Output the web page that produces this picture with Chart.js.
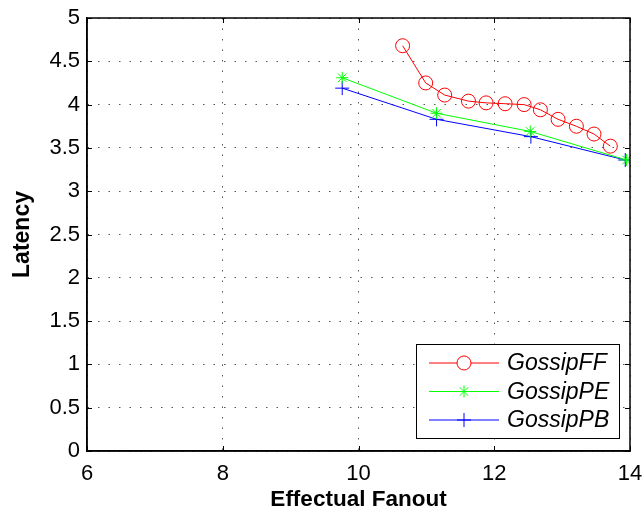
<!DOCTYPE html>
<html>
<head>
<meta charset="utf-8">
<script src="https://cdn.jsdelivr.net/npm/chart.js@4/dist/chart.umd.min.js"></script>
<style>
  html, body { margin: 0; padding: 0; background: #fff; overflow: hidden; }
  #wrap { width: 644px; height: 513px; }
  canvas { display: block; }
</style>
</head>
<body>
<div id="wrap"><canvas id="c" width="644" height="513"></canvas></div>
<script>
const FONT = '"Liberation Sans", Arial, Helvetica, sans-serif';

// data
const ffX = [10.65, 10.99, 11.27, 11.62, 11.88, 12.16, 12.44, 12.68, 12.94, 13.21, 13.47, 13.71];
const ffY = [4.68, 4.25, 4.11, 4.04, 4.02, 4.01, 4.00, 3.94, 3.83, 3.75, 3.66, 3.52];
const peX = [9.76, 11.15, 12.53, 13.95];
const peY = [4.31, 3.90, 3.69, 3.36];
const pbX = [9.76, 11.15, 12.54, 13.93];
const pbY = [4.19, 3.83, 3.63, 3.36];

const xTicks = [6, 8, 10, 12, 14];
const yTicks = [0, 0.5, 1, 1.5, 2, 2.5, 3, 3.5, 4, 4.5, 5];

const pts = (xs, ys) => xs.map((x, i) => ({ x, y: ys[i] }));

const series = [
  { label: "GossipFF", data: pts(ffX, ffY), color: "#ff0000", style: "circle", r: 7 },
  { label: "GossipPE", data: pts(peX, peY), color: "#00ff00", style: "star", r: 6 },
  { label: "GossipPB", data: pts(pbX, pbY), color: "#0000ff", style: "cross", r: 7 },
];

// frame + inward tick marks like matlab
const framePlugin = {
  id: "frame",
  afterDraw(chart) {
    const { ctx, chartArea: a, scales } = chart;
    ctx.save();
    ctx.strokeStyle = "#000";
    ctx.lineWidth = 1.5;
    ctx.strokeRect(a.left, a.top, a.right - a.left, a.bottom - a.top);
    ctx.lineWidth = 1;
    const tl = 5;
    ctx.beginPath();
    xTicks.forEach((v) => {
      const px = Math.round(scales.x.getPixelForValue(v)) + 0.5;
      ctx.moveTo(px, a.bottom); ctx.lineTo(px, a.bottom - tl);
      ctx.moveTo(px, a.top); ctx.lineTo(px, a.top + tl);
    });
    yTicks.forEach((v) => {
      const py = Math.round(scales.y.getPixelForValue(v)) + 0.5;
      ctx.moveTo(a.left, py); ctx.lineTo(a.left + tl, py);
      ctx.moveTo(a.right, py); ctx.lineTo(a.right - tl, py);
    });
    ctx.stroke();
    ctx.restore();
  },
};

// legend box inside the bottom-right corner
const legendPlugin = {
  id: "boxLegend",
  afterDraw(chart) {
    const { ctx, chartArea: a } = chart;
    const w = 203, rowH = 28.5;
    const h = 94;
    const x0 = a.right - 11 - w, y0 = a.bottom - 13 - h;
    ctx.save();
    ctx.fillStyle = "#fff";
    ctx.fillRect(x0, y0, w, h);
    ctx.strokeStyle = "#000";
    ctx.lineWidth = 1;
    ctx.strokeRect(x0 + 0.5, y0 + 0.5, w, h);
    ctx.font = "italic 23px " + FONT;
    ctx.textBaseline = "middle";
    ctx.textAlign = "left";
    series.forEach((s, i) => {
      const y = y0 + 19 + i * rowH;
      ctx.strokeStyle = s.color;
      ctx.lineWidth = 1;
      ctx.beginPath();
      ctx.moveTo(x0 + 13, y);
      ctx.lineTo(x0 + 83, y);
      ctx.stroke();
      Chart.helpers.drawPoint(ctx, { pointStyle: s.style, radius: s.r, borderWidth: 1, rotation: 0 }, x0 + 48, y);
      ctx.fillStyle = "#000";
      ctx.fillText(s.label, x0 + 91, y + 1);
    });
    ctx.restore();
  },
};

const gridOpts = { color: "#555", lineWidth: 1, drawTicks: false };
const borderOpts = { display: true, color: "#000", width: 1.5, dash: [1.5, 9] };
const fmt = (v) => String(v);

new Chart(document.getElementById("c"), {
  type: "line",
  data: {
    datasets: series.map((s) => ({
      label: s.label,
      data: s.data,
      borderColor: s.color,
      backgroundColor: "rgba(0,0,0,0)",
      pointBorderColor: s.color,
      pointBackgroundColor: "rgba(0,0,0,0)",
      pointStyle: s.style,
      pointRadius: s.r,
      pointBorderWidth: 1,
      borderWidth: 1,
      tension: 0,
      fill: false,
    })),
  },
  options: {
    responsive: false,
    animation: false,
    layout: { padding: { top: 18, right: 14, left: 0, bottom: 0 } },
    plugins: { legend: { display: false }, tooltip: { enabled: false } },
    scales: {
      x: {
        type: "linear",
        min: 6,
        max: 14,
        afterBuildTicks: (s) => { s.ticks = xTicks.map((v) => ({ value: v })); },
        afterFit: (s) => { s.height = 62; s.paddingLeft = 0; s.paddingRight = 0; },
        grid: gridOpts,
        border: borderOpts,
        ticks: { color: "#000", font: { family: FONT, size: 22 }, padding: 10, maxRotation: 0, callback: fmt },
        title: { display: true, text: "Effectual Fanout", color: "#000", font: { family: FONT, size: 22.5, weight: "bold" }, padding: { top: 4, bottom: 0 } },
      },
      y: {
        type: "linear",
        min: 0,
        max: 5,
        afterBuildTicks: (s) => { s.ticks = yTicks.map((v) => ({ value: v })); },
        afterFit: (s) => { s.width = 87; s.paddingTop = 0; s.paddingBottom = 0; },
        grid: gridOpts,
        border: borderOpts,
        ticks: { color: "#000", font: { family: FONT, size: 22 }, padding: 7, callback: fmt },
        title: { display: true, text: "Latency", color: "#000", font: { family: FONT, size: 23, weight: "bold" }, padding: { top: 9, bottom: 0 } },
      },
    },
  },
  plugins: [framePlugin, legendPlugin],
});
</script>
</body>
</html>
